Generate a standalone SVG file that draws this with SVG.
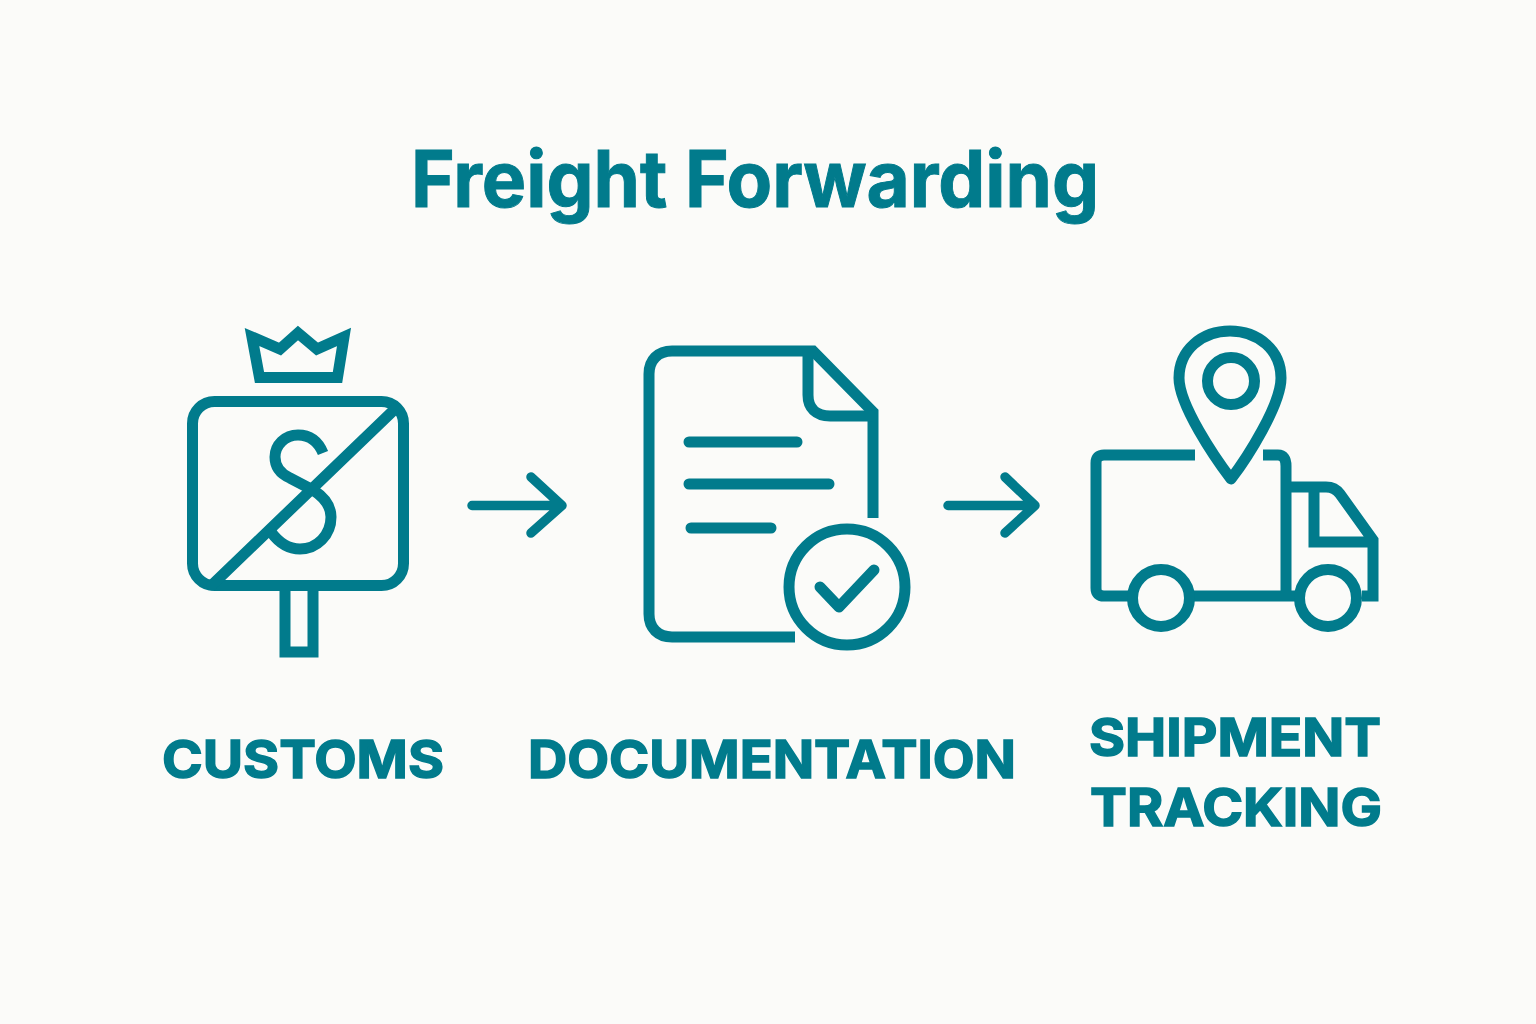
<svg xmlns="http://www.w3.org/2000/svg" width="1536" height="1024" viewBox="0 0 1536 1024">
<style>
.i{fill:none;stroke:#017b8c;stroke-width:11;stroke-linecap:round;stroke-linejoin:round}
.m{stroke-linejoin:miter;stroke-linecap:butt}
.a{fill:none;stroke:#017b8c;stroke-width:9.5;stroke-linecap:round;stroke-linejoin:round}
text{fill:#017b8c;font-family:"Inter","Liberation Sans",sans-serif;font-weight:700;text-anchor:middle;stroke:#017b8c}
.t{font-size:78px;stroke-width:1}
.l{font-size:52px;stroke-width:1.5}
</style>
<rect width="1536" height="1024" fill="#fbfbf9"/>
<text class="t" x="755" y="207" textLength="688" lengthAdjust="spacingAndGlyphs">Freight Forwarding</text>
<g id="customs">
<path class="i m" d="M259.500,377.500L252,337L280,349L298,333L317,349L344,337L337.500,377.500Z"/>
<rect class="i" x="192.500" y="401.500" width="211" height="184" rx="22"/>
<path class="i" d="M212,585L396,408"/>
<path class="i m" d="M323,453C318,441 309,435 298,435C285,435 275,445 275,457C275,467 281,474 290,478L313,490C324,497 331,506 331,517C331,535 317,549 300,549C288,549 279,543 271,532"/>
<path class="i m" d="M285,591V652H313V591"/>
<text class="l" x="303" y="778" textLength="282" lengthAdjust="spacingAndGlyphs">CUSTOMS</text>
</g>
<g id="documentation">
<path class="i m" d="M795,637H672C658,637 649,628 649,614V374C649,360 658,351 672,351H813L873,412V518"/>
<path class="i m" d="M808,355V395C808,408 816,416 830,416H873"/>
<path class="i" d="M689,442H797M689,484H829M691,528H771"/>
<circle class="i" cx="847" cy="587" r="58"/>
<path class="i" d="M820,587L839,607L874,570"/>
<text class="l" x="772" y="778" textLength="488" lengthAdjust="spacingAndGlyphs">DOCUMENTATION</text>
</g>
<g id="shipment-tracking">
<path class="i m" d="M1195,455H1104Q1096,455 1096,463V588Q1096,596 1104,596H1132M1190,596H1300M1263,455H1278Q1286,455 1286,466V596"/>
<path class="i m" d="M1290,487H1326Q1335,487 1340,494L1373,540V596H1362M1314,490V542H1373"/>
<circle class="i" cx="1161" cy="598" r="28.500"/>
<circle class="i" cx="1328" cy="598" r="28.500"/>
<path class="i" d="M1231,479C1215,458 1179,405 1179,378C1179,350 1202,331 1230,331C1258,331 1281,350 1281,378C1281,405 1247,458 1231,479Z"/>
<circle class="i" cx="1231" cy="381" r="23.500"/>
<text class="l" x="1235" y="756" textLength="292" lengthAdjust="spacingAndGlyphs">SHIPMENT</text>
<text class="l" x="1236" y="826" textLength="292" lengthAdjust="spacingAndGlyphs">TRACKING</text>
</g>
<g id="connectors">
<path class="a" d="M472,505.500H561M531,477L562,505.500L531,533"/>
<path class="a" d="M948,505.500H1034M1005,477L1035,505.500L1005,533"/>
</g>
</svg>
